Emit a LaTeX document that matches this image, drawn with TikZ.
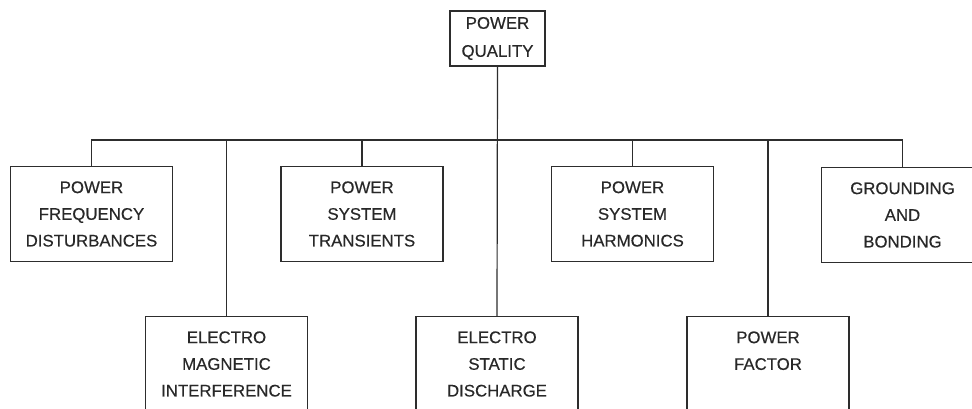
\documentclass[tikz,border=0pt]{standalone}
\usepackage{fontspec}
\setmainfont{Liberation Sans}
\newfontfamily\boxfont[FakeBold=0.35]{Liberation Sans}
\begin{document}
\begin{tikzpicture}[x=1pt,y=-1pt,
  ink/.style={draw={rgb,255:red,45;green,45;blue,45}, line width=1.2pt},
  box/.style={ink, rectangle, minimum width=162pt, minimum height=95pt, inner sep=0pt,
    align=center, text={rgb,255:red,40;green,40;blue,40},
    font=\boxfont\fontsize{16.8}{26.7}\selectfont},
  topbox/.style={box, minimum width=95pt, minimum height=55pt, font=\boxfont\fontsize{16.8}{28}\selectfont},
  wire/.style={ink}]
\useasboundingbox (0,0) rectangle (972,408);
\fill[white] (0,0) rectangle (972,408);
\clip (0,0) rectangle (972,408);
\node[topbox] (pq) at (497.5,38.5) {POWER\\QUALITY};
\node[box] (pfd) at (91.5,214) {POWER\\FREQUENCY\\DISTURBANCES};
\node[box] (pst) at (362,214) {POWER\\SYSTEM\\TRANSIENTS};
\node[box] (psh) at (632.5,214) {POWER\\SYSTEM\\HARMONICS};
\node[box] (gb) at (902.5,215) {GROUNDING\\AND\\BONDING};
\node[box] (emi) at (226.5,364) {ELECTRO\\MAGNETIC\\INTERFERENCE};
\node[box] (esd) at (497,364) {ELECTRO\\STATIC\\DISCHARGE};
\node[box] (pf) at (768,364) {POWER\\FACTOR\\\mbox{}};
\coordinate (bus) at (497,140);
\draw[wire] (pq.south) -- (esd.north);
\draw[wire] (pfd.north) -- (pfd.north |- bus) -- (gb.north |- bus) -- (gb.north);
\draw[wire] (emi.north) -- (emi.north |- bus);
\draw[wire] (pst.north) -- (pst.north |- bus);
\draw[wire] (psh.north) -- (psh.north |- bus);
\draw[wire] (pf.north) -- (pf.north |- bus);
\end{tikzpicture}
\end{document}
